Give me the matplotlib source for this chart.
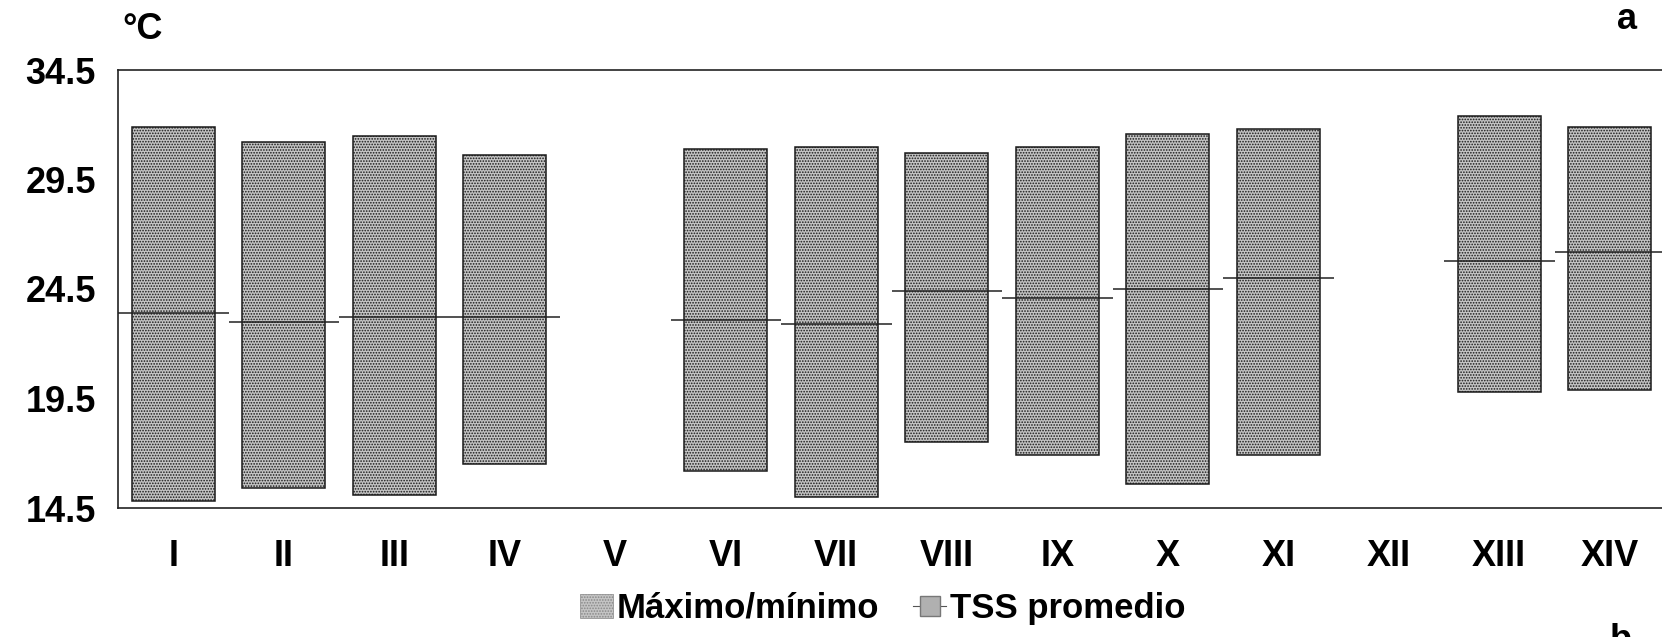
import numpy as np
import matplotlib
matplotlib.use('Agg')
import matplotlib.pyplot as plt
from matplotlib.patches import Patch
from matplotlib.lines import Line2D

plt.rcParams['font.family'] = ['Liberation Sans', 'DejaVu Sans']
plt.rcParams['font.weight'] = 'bold'
plt.rcParams['hatch.linewidth'] = 0.8

# monthly sea surface temperature (°C)
categories = ['I', 'II', 'III', 'IV', 'V', 'VI', 'VII', 'VIII', 'IX', 'X',
              'XI', 'XII', 'XIII', 'XIV']
t_max = [31.9, 31.2, 31.5, 30.6, np.nan, 30.9, 31.0, 30.7, 31.0, 31.6,
         31.8, np.nan, 32.4, 31.9]
t_min = [14.8, 15.4, 15.1, 16.5, np.nan, 16.2, 15.0, 17.5, 16.9, 15.6,
         16.9, np.nan, 19.8, 19.9]
t_mean = [23.4, 23.0, 23.2, 23.2, np.nan, 23.1, 22.9, 24.4, 24.1, 24.5,
          25.0, np.nan, 25.8, 26.2]
y_ticks = [14.5, 19.5, 24.5, 29.5, 34.5]

fig = plt.figure(figsize=(16.62, 6.37), dpi=100)
ax = fig.add_axes([118 / 1662, 1 - 508 / 637, 1547 / 1662, 438 / 637])

x = np.arange(len(categories))
lo = np.array(t_min)
hi = np.array(t_max)
ax.bar(x, hi - lo, bottom=lo, width=0.75, facecolor='#c4c4c4',
       edgecolor='#1a1a1a', linewidth=1.1, hatch='......', zorder=2)
ax.hlines(t_mean, x - 0.5, x + 0.5, color='#222222', linewidth=1.1, zorder=3)

ax.set_xlim(-0.5, len(categories) - 0.5)
ax.set_ylim(14.5, 34.5)
ax.set_yticks(y_ticks)
ax.set_yticklabels([f'{v:.1f}' for v in y_ticks])
ax.set_xticks(x)
ax.set_xticklabels(categories)
ax.tick_params(axis='both', length=0, labelsize=26)
ax.tick_params(axis='x', pad=22)
ax.tick_params(axis='y', pad=16)
for sp in ax.spines.values():
    sp.set_linewidth(1.2)
    sp.set_color('#222222')

fig.text(0.086, 0.953, '°C', fontsize=26, fontweight='bold', ha='center', va='center')
fig.text(0.979, 0.970, 'a', fontsize=26, fontweight='bold', ha='center', va='center')
fig.text(0.975, 0.022, 'b', fontsize=26, fontweight='bold', ha='center', va='top')

handles = [
    Patch(facecolor='#c4c4c4', edgecolor='#888888', hatch='......', linewidth=0.5),
    Line2D([0], [0], color='#555555', linewidth=0.8, marker='s', markersize=15,
           markerfacecolor='#b0b0b0', markeredgecolor='#777777'),
]
fig.legend(handles, ['Máximo/mínimo', 'TSS promedio'], loc='center',
           bbox_to_anchor=(0.531, 0.045), ncol=2, frameon=False, fontsize=25,
           handlelength=0.95, handleheight=0.7, handletextpad=0.1,
           columnspacing=1.0, borderpad=0)

fig.savefig('out.png', dpi=100)
